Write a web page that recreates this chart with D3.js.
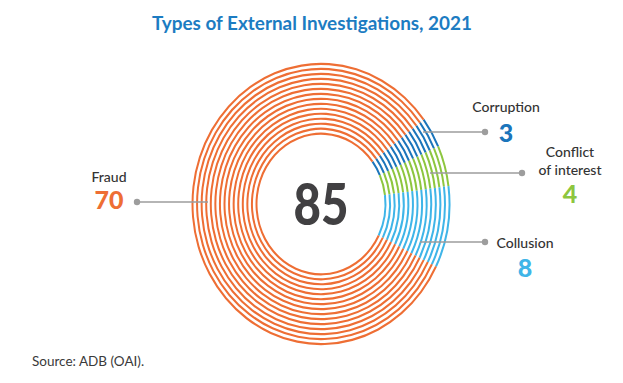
<!DOCTYPE html>
<html>
<head>
<meta charset="utf-8">
<script src="https://cdn.jsdelivr.net/npm/d3@7"></script>
<style>
  html, body { margin: 0; padding: 0; background: #fff; }
  svg { display: block; }
</style>
</head>
<body>
<div id="chart"></div>
<script>
// Daten
const categories = ['Corruption', 'Conflict of interest', 'Collusion', 'Fraud'];
const values = [3, 4, 8, 70];
const colors = ['#1b75bb', '#8dc63f', '#3fb5e8', '#ee6e34'];
const total = 85;

const width = 623, height = 383;
const cx = 321, cy = 204;
const stretchY = 1.09;
const ringCount = 15;
const rInner = 64.5, rOuter = 128.5;
const ringWidth = 2.0;

// Beschriftungen (Position je Kategorie)
const LABELS = {
  'Corruption':           { lines: ['Corruption'], x: 506, y: 112, numY: 142, dot: [485, 132], lineFrom: 423 },
  'Conflict of interest': { lines: ['Conflict', 'of interest'], x: 570, y: 157, numY: 203, dot: [522, 173], lineFrom: 430 },
  'Collusion':            { lines: ['Collusion'], x: 525, y: 248, numY: 277, dot: [485, 242], lineFrom: 420 },
  'Fraud':                { lines: ['Fraud'], x: 109, y: 182, numY: 209, dot: [137, 202], lineFrom: 208 }
};

const svg = d3.select('#chart').append('svg')
  .attr('width', width)
  .attr('height', height);

svg.append('rect').attr('width', width).attr('height', height).attr('fill', '#fff');

svg.append('text')
  .attr('x', 312).attr('y', 30)
  .attr('text-anchor', 'middle')
  .attr('font-family', 'Lato')
  .attr('font-weight', 700)
  .attr('font-size', 18)
  .attr('fill', '#1c7cc2')
  .attr('textLength', 320)
  .attr('lengthAdjust', 'spacingAndGlyphs')
  .text('Types of External Investigations, 2021');

const startAngle = 53 * Math.PI / 180;
const pie = d3.pie().sort(null).value(d => d.value)
  .startAngle(startAngle).endAngle(startAngle + 2 * Math.PI);
const arcsData = pie(categories.map((c, i) => ({ name: c, value: values[i], color: colors[i] })));

const rScale = d3.scaleLinear().domain([0, ringCount - 1]).range([rInner, rOuter]);

const donut = svg.append('g')
  .attr('transform', `translate(${cx},${cy}) scale(1,${stretchY})`);

d3.range(ringCount).forEach(k => {
  const r = rScale(k);
  const arc = d3.arc().innerRadius(r - ringWidth / 2).outerRadius(r + ringWidth / 2);
  donut.append('g')
    .selectAll('path')
    .data(arcsData)
    .join('path')
      .attr('d', arc)
      .attr('fill', d => d.data.color);
});

svg.append('text')
  .attr('x', cx).attr('y', 225)
  .attr('text-anchor', 'middle')
  .attr('font-family', 'Lato')
  .attr('font-weight', 900)
  .attr('font-size', 58)
  .attr('fill', '#414042')
  .attr('textLength', 55)
  .attr('lengthAdjust', 'spacingAndGlyphs')
  .text(total);

// Führungslinien + Labels
const ann = svg.append('g');
categories.forEach((c, i) => {
  const L = LABELS[c];
  ann.append('line')
    .attr('x1', L.lineFrom).attr('y1', L.dot[1])
    .attr('x2', L.dot[0]).attr('y2', L.dot[1])
    .attr('stroke', '#9d9d9d')
    .attr('stroke-width', 1.3);
  ann.append('circle')
    .attr('cx', L.dot[0]).attr('cy', L.dot[1])
    .attr('r', 3.2)
    .attr('fill', '#9d9d9d');
  L.lines.forEach((t, j) => {
    ann.append('text')
      .attr('x', L.x).attr('y', L.y + j * 18)
      .attr('text-anchor', 'middle')
      .attr('font-family', 'Lato')
      .attr('font-weight', 500)
      .attr('font-size', 14)
      .attr('fill', '#333333')
      .text(t);
  });
  ann.append('text')
    .attr('x', L.x).attr('y', L.numY)
    .attr('text-anchor', 'middle')
    .attr('font-family', 'Lato')
    .attr('font-weight', 900)
    .attr('font-size', 25)
    .attr('fill', colors[i])
    .text(values[i]);
});

svg.append('text')
  .attr('x', 32).attr('y', 366)
  .attr('font-family', 'Lato')
  .attr('font-size', 13.5)
  .attr('fill', '#3a3a3a')
  .text('Source: ADB (OAI).');
</script>
</body>
</html>
